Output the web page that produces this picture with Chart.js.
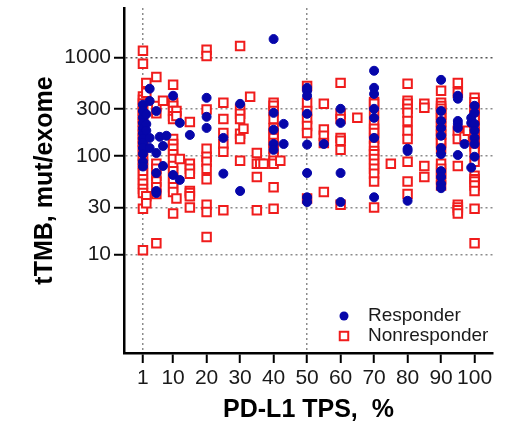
<!DOCTYPE html>
<html>
<head>
<meta charset="utf-8">
<script src="https://cdn.jsdelivr.net/npm/chart.js@4/dist/chart.umd.min.js"></script>
<style>
  body { margin: 0; background: #fff; }
</style>
</head>
<body>
<canvas id="tmb-chart" width="518" height="437"></canvas>
<script>
// tick values
const tpsTicks = [1, 10, 20, 30, 40, 50, 60, 70, 80, 90, 100];
const tmbTicks = [10, 30, 100, 300, 1000];

// Responders (PD-L1 TPS %, tTMB mut/exome)
const responderTps = [
  1, 1, 1, 1, 1, 1, 1, 1, 1, 1, 1, 1,
  2, 2, 2, 3, 3, 3, 3,
  5, 5, 5, 5, 5,
  6, 7, 7, 8,
  10, 10, 12, 12, 15,
  20, 20, 20, 25, 25, 30, 30,
  40, 40, 40, 40, 40, 43, 43,
  50, 50, 50, 50, 50, 50, 50, 50,
  55, 60, 60, 60, 60,
  70, 70, 70, 70, 70, 70, 70,
  80, 80, 80,
  90, 90, 90, 90, 90, 90, 90, 90, 90, 90, 90,
  95, 95, 95, 95, 95, 95, 97,
  99, 99, 99,
  100, 100, 100, 100, 100, 100, 100
];
const responderTmb = [
  330, 285, 245, 215, 190, 170, 150, 135, 120, 105, 87, 78,
  265, 210, 180, 480, 360, 152, 120,
  285, 107, 67, 44, 42,
  156, 126, 79, 160,
  407, 64, 216, 57, 163,
  388, 249, 192, 152, 66, 337, 44,
  1530, 273, 184, 132, 115, 211, 132,
  490, 457, 407, 267, 130, 67, 38, 34,
  132, 300, 216, 67, 34,
  730, 490, 425, 300, 243, 152, 38,
  118, 112, 35,
  590, 285, 226, 192, 160, 120, 104, 70, 61, 52, 47,
  407, 380, 226, 211, 192, 102, 132,
  243, 216, 76,
  322, 273, 211, 180, 152, 132, 98
];

// Nonresponders
const nonresponderTps = [
  1, 1, 1, 1, 1, 1, 1, 1, 1, 1, 1, 1, 1, 1, 1, 1, 1, 1, 1, 1, 1, 1, 1, 1, 1, 1, 1, 1,
  2, 2, 2, 2,
  5, 5, 5, 5, 5, 5, 5, 5, 5, 5,
  7,
  10, 10, 10, 10, 10, 10, 10, 10, 10, 10, 10, 10, 10, 10, 10, 10, 10, 10,
  11, 11, 11, 12,
  15, 15, 15, 15, 15, 15, 15, 15,
  20, 20, 20, 20, 20, 20, 20, 20, 20, 20, 20,
  25, 25, 25, 25, 25, 25,
  30, 30, 30, 30, 30, 30, 30, 31, 33,
  35, 35, 35, 35, 36, 37,
  40, 40, 40, 40, 40, 40, 40, 40, 40, 40, 40, 40, 40, 40, 42,
  50, 50, 50, 50, 50, 50, 50,
  55, 55, 55, 55, 55,
  60, 60, 60, 60, 60, 60, 60, 65,
  70, 70, 70, 70, 70, 70, 70, 70, 70, 70, 70, 70, 70, 70, 70, 70,
  75,
  80, 80, 80, 80, 80, 80, 80, 80, 80, 80, 80,
  85, 85, 85, 85,
  90, 90, 90, 90, 90, 90, 90, 90, 90, 90, 90, 90, 90, 90, 90, 90, 90, 90, 90,
  95, 95, 95, 95, 95, 95, 95, 95, 95, 97, 98,
  100, 100, 100, 100, 100, 100, 100, 100, 100, 100, 100, 100, 100, 100, 100, 100, 100, 100, 100, 100
];
const nonresponderTmb = [
  1165, 860, 400, 370, 340, 310, 285, 260, 240, 220, 200, 180, 165, 150, 138, 126, 115, 100, 92, 83, 74, 66, 58, 52, 46, 42, 29, 11,
  550, 437, 39, 33,
  630, 320, 270, 83, 74, 63, 55, 48, 41, 13,
  362,
  525, 345, 322, 285, 253, 237, 148, 132, 118, 104, 93, 79, 70, 61, 55, 48, 43, 26,
  285, 253, 37, 93,
  220, 83, 74, 66, 44, 42, 39, 30,
  1190, 1030, 295, 118, 98, 87, 74, 58, 32, 27, 15,
  345, 237, 171, 132, 110, 28,
  1300, 300, 267, 237, 168, 148, 89, 188, 397,
  107, 83, 61, 28, 83, 83,
  345, 322, 285, 237, 192, 171, 152, 135, 118, 98, 89, 83, 48, 29, 89,
  512, 345, 285, 237, 201, 171, 37,
  337, 185, 160, 135, 43,
  550, 267, 237, 152, 142, 115, 32, 243,
  352, 337, 273, 216, 188, 171, 148, 126, 112, 104, 93, 83, 74, 66, 55, 30,
  83,
  540, 362, 337, 300, 273, 226, 180, 148, 87, 55, 41,
  337, 307, 79, 61,
  457, 345, 320, 300, 280, 260, 240, 220, 200, 180, 165, 150, 135, 118, 83, 74, 66, 58, 50,
  550, 437, 180, 148, 79, 32, 30, 28, 26, 156, 180,
  388, 350, 310, 290, 260, 230, 200, 175, 155, 140, 125, 110, 87, 63, 58, 55, 50, 44, 29, 13
];

const FONT = "'Liberation Sans', Arial, sans-serif";
Chart.defaults.font.family = FONT;

function toPoints(xs, ys) {
  return xs.map((x, i) => ({ x: x, y: ys[i] }));
}

// legend drawn inside the plot, bottom right
const insideLegend = {
  id: "insideLegend",
  afterDatasetsDraw(chart) {
    const { ctx, chartArea } = chart;
    const x = chartArea.right - 149;
    let y = chartArea.bottom - 37;
    ctx.save();
    ctx.font = "19px " + FONT;
    ctx.textBaseline = "middle";
    chart.data.datasets.forEach((ds) => {
      ctx.fillStyle = ds.backgroundColor;
      ctx.strokeStyle = ds.borderColor;
      ctx.lineWidth = ds.borderWidth;
      if (ds.pointStyle === "circle") {
        ctx.beginPath();
        ctx.arc(x, y, ds.pointRadius, 0, Math.PI * 2);
        ctx.fill();
      } else {
        const h = ds.pointRadius * Math.SQRT1_2;
        ctx.fillRect(x - h, y - h, 2 * h, 2 * h);
        ctx.strokeRect(x - h, y - h, 2 * h, 2 * h);
      }
      ctx.fillStyle = "#1a1a1a";
      ctx.fillText(ds.label, x + 24, y);
      y += 20;
    });
    ctx.restore();
  },
};

new Chart(document.querySelector("#tmb-chart").getContext("2d"), {
  type: "scatter",
  data: {
    datasets: [
      {
        label: "Responder",
        data: toPoints(responderTps, responderTmb),
        pointStyle: "circle",
        pointRadius: 4.5,
        backgroundColor: "#0606aa",
        borderColor: "#0606aa",
        borderWidth: 1,
      },
      {
        label: "Nonresponder",
        data: toPoints(nonresponderTps, nonresponderTmb),
        pointStyle: "rect",
        pointRadius: 6,
        backgroundColor: "#ffffff",
        borderColor: "#f01c1c",
        borderWidth: 2,
      },
    ],
  },
  options: {
    responsive: false,
    animation: false,
    devicePixelRatio: 1,
    layout: { padding: { top: 8, right: 25, left: 0, bottom: 0 } },
    plugins: { legend: { display: false }, tooltip: { enabled: false } },
    scales: {
      x: {
        type: "linear",
        min: -4.66,
        max: 105.5,
        afterBuildTicks: (scale) => {
          scale.ticks = tpsTicks.map((v) => ({ value: v }));
        },
        afterFit: (scale) => {
          scale.height = 84;
          scale.paddingLeft = 0;
          scale.paddingRight = 0;
        },
        ticks: {
          font: { size: 21 },
          color: "#1a1a1a",
          padding: 3,
          autoSkip: false,
          maxRotation: 0,
          callback: (v) => String(v),
        },
        grid: {
          color: (c) =>
            c.tick && (c.tick.value === 1 || c.tick.value === 50)
              ? "#8c8c8c"
              : "rgba(0,0,0,0)",
          lineWidth: 1.5,
          tickColor: "#000",
          tickLength: 10,
          tickWidth: 2,
        },
        border: { color: "#000", width: 2.5, dash: [2, 3] },
        title: {
          display: true,
          text: "PD-L1 TPS,  %",
          font: { size: 25, weight: "bold" },
          color: "#000",
          padding: { top: 0, bottom: 12 },
        },
      },
      y: {
        type: "logarithmic",
        min: 1,
        max: 3162,
        afterBuildTicks: (scale) => {
          scale.ticks = tmbTicks.map((v) => ({ value: v }));
        },
        afterFit: (scale) => {
          scale.width = 124;
          scale.paddingTop = 0;
          scale.paddingBottom = 0;
        },
        ticks: {
          font: { size: 21 },
          color: "#1a1a1a",
          padding: 3,
          autoSkip: false,
          callback: (v) => String(v),
        },
        grid: {
          color: (c) => (c.tick && c.tick.value === 1000 ? "#555" : "#8c8c8c"),
          lineWidth: 1.5,
          tickColor: "#000",
          tickLength: 10,
          tickWidth: 2,
        },
        border: { color: "#000", width: 2.5, dash: [2, 3] },
        title: {
          display: true,
          text: "tTMB, mut/exome",
          font: { size: 25, weight: "bold" },
          color: "#000",
          padding: { top: 30, bottom: 0 },
        },
      },
    },
  },
  plugins: [insideLegend],
});
</script>
</body>
</html>
